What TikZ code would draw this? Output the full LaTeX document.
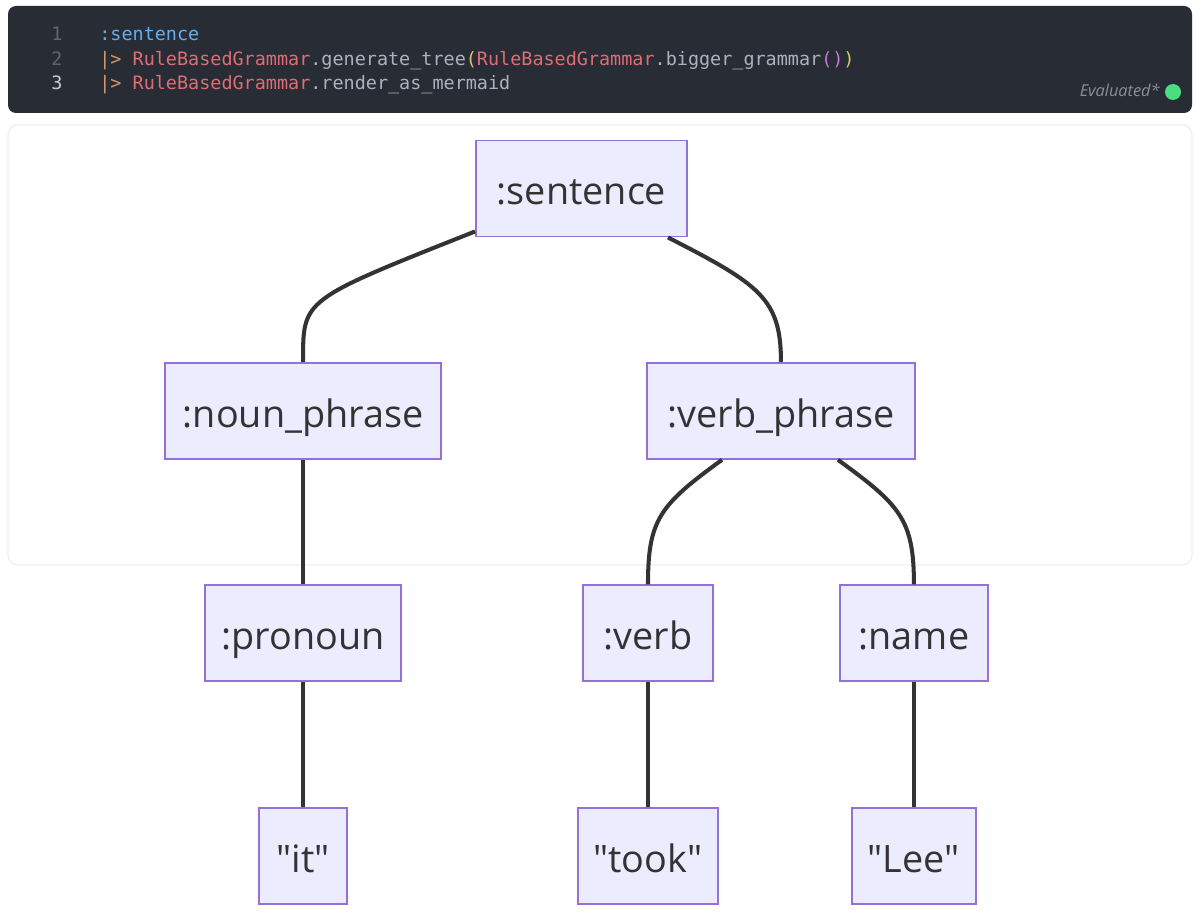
\documentclass[tikz,border=0pt]{standalone}
\usepackage{fontspec}
\setmainfont{Open Sans}
\newfontfamily\codefont{DejaVu Sans Mono}
\usetikzlibrary{positioning,calc}

\definecolor{editorbg}{HTML}{282C34}
\definecolor{lineno}{HTML}{5F6672}
\definecolor{linenocur}{HTML}{C8CCD4}
\definecolor{kwblue}{HTML}{61AFEF}
\definecolor{pipeorange}{HTML}{D19A66}
\definecolor{modred}{HTML}{E06C75}
\definecolor{plaintext}{HTML}{ABB2BF}
\definecolor{parenyellow}{HTML}{E5C07B}
\definecolor{parenpurple}{HTML}{C678DD}
\definecolor{evalgray}{HTML}{8A919C}
\definecolor{evalgreen}{HTML}{4ADE80}
\definecolor{nodefill}{HTML}{ECECFF}
\definecolor{nodeline}{HTML}{9370DB}
\definecolor{edgeline}{HTML}{333333}

\begin{document}
\begin{tikzpicture}[
    x=0.02cm, y=-0.02cm,
    node distance=2.49cm,
    tree/.style={rectangle, draw=nodeline, fill=nodefill, line width=1.1pt, minimum height=1.92cm, inner xsep=0pt, text height=20pt, text depth=1.3pt, text=edgeline, font=\fontsize{21.5}{25}\selectfont},
    link/.style={draw=edgeline, line width=2.3pt},
    code/.style={anchor=base west, inner sep=0pt, font=\codefont\fontsize{10.5}{12}\selectfont},
    lnum/.style={anchor=base, inner sep=0pt, text=lineno, font=\codefont\fontsize{10.5}{12}\selectfont}
]
    % page and panels
    \fill[white] (0,0) rectangle (1200,912);
    \fill[editorbg, rounded corners=0.16cm] (8,6) rectangle (1192,113);
    \draw[black!6, fill=white, line width=0.8pt, rounded corners=0.2cm] (8,125) rectangle (1192,565);

    % code cell
    \node (n1) [lnum] at (57,41) {1};
    \node (n2) [lnum] at (57,66) {2};
    \node (n3) [lnum, text=linenocur] at (57,90) {3};
    \node (l1) [code] at (99,41) {\color{kwblue}:sentence};
    \node (l2) [code] at (99,66) {{\color{pipeorange}|>} {\color{modred}RuleBasedGrammar}{\color{plaintext}.generate\_tree}{\color{parenyellow}(}{\color{modred}RuleBasedGrammar}{\color{plaintext}.bigger\_grammar}{\color{parenpurple}()}{\color{parenyellow})}};
    \node (l3) [code] at (99,90) {{\color{pipeorange}|>} {\color{modred}RuleBasedGrammar}{\color{plaintext}.render\_as\_mermaid}};
    \node (eval) [anchor=base east, inner sep=0pt, text=evalgray, font=\fontsize{9.3}{11}\selectfont\itshape] at (1160,97) {Evaluated*};
    \fill[evalgreen] (1173,92) circle [radius=0.16cm];

    % tree
    \node (sent) [tree, minimum width=4.22cm] at (581.5,188.5) {:sentence};
    \node (np) [tree, minimum width=5.52cm, below=of sent, xshift=-5.57cm] {:noun\_phrase};
    \node (vp) [tree, minimum width=5.36cm, below=of sent, xshift=3.99cm] {:verb\_phrase};
    \node (pron) [tree, minimum width=3.92cm, below=of np] {:pronoun};
    \node (verb) [tree, minimum width=2.6cm, below=of vp, xshift=-2.66cm] {:verb};
    \node (name) [tree, minimum width=2.96cm, below=of vp, xshift=2.66cm] {:name};
    \node (it) [tree, minimum width=1.76cm, below=of pron] {\textquotedbl it\textquotedbl};
    \node (took) [tree, minimum width=2.8cm, below=of verb] {\textquotedbl took\textquotedbl};
    \node (lee) [tree, minimum width=2.48cm, below=of name] {\textquotedbl Lee\textquotedbl};

    \draw [link] ($(sent.south west)+(0,-6)$) .. controls +(-174,69) and +(0,-63) .. (np.north);
    \draw [link] ($(sent.south east)+(-20,0)$) .. controls +(92,47) and +(0,-63) .. (vp.north);
    \draw [link] ($(vp.south)+(-59,0)$) .. controls +(-62,45) and +(0,-65) .. (verb.north);
    \draw [link] ($(vp.south)+(57,0)$) .. controls +(62,45) and +(0,-65) .. (name.north);
    \draw [link] (np) -- (pron);
    \draw [link] (pron) -- (it);
    \draw [link] (verb) -- (took);
    \draw [link] (name) -- (lee);
\end{tikzpicture}
\end{document}
